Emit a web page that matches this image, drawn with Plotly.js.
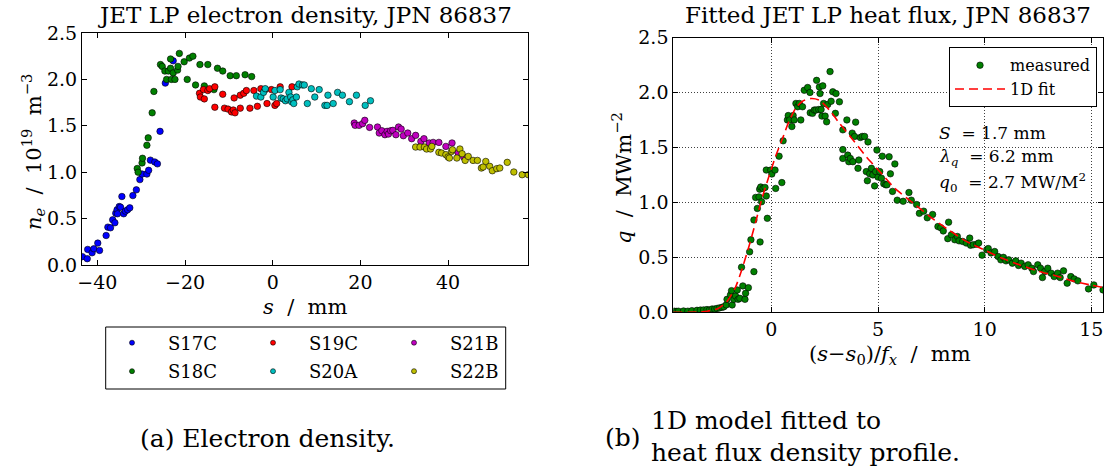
<!DOCTYPE html>
<html><head><meta charset="utf-8">
<script src="https://cdn.plot.ly/plotly-3.0.1.min.js"></script>
<style>html,body{margin:0;padding:0;background:#fff}</style>
</head><body><div id="chart" style="width:1112px;height:472px"></div>
<script>
// ---------- Data: left panel (electron density) ----------
const s17cX = [-43.4,-42.3,-42.2,-41.2,-40.8,-39.9,-39.5,-38.0,-37.6,-37.0,-36.5,-36.0,-35.8,-35.5,-35.4,-35.0,-34.7,-34.4,-34.0,-33.6,-33.1,-32.6,-31.9,-31.1,-30.3,-29.8,-28.7,-28.3,-27.9,-26.9,-26.3,-25.7,-24.5,-22.7];
const s17cY = [0.09,0.068,0.168,0.132,0.175,0.236,0.157,0.318,0.408,0.401,0.487,0.455,0.558,0.595,0.552,0.630,0.623,0.738,0.552,0.580,0.595,0.616,0.748,0.810,0.920,0.98,0.98,1.02,1.13,1.11,1.09,1.44,1.96,2.20];
const s18cX = [-30.9,-30.7,-29.8,-29.7,-28.7,-28.4,-27.5,-27.1,-25.6,-25.2,-24.6,-24.2,-23.8,-23.3,-23.3,-23.1,-22.7,-22.3,-21.7,-21.6,-21.3,-20.2,-19.5,-19.0,-18.2,-17.6,-16.6,-15.6,-14.8,-13.4,-12.6,-11.4,-9.7,-8.3,-6.3,-4.8];
const s18cY = [1.04,1.00,1.10,1.15,1.29,1.37,1.64,1.87,2.16,2.14,2.09,2.00,2.09,2.22,2.12,2.00,2.07,2.00,2.10,2.14,2.28,2.19,2.00,2.23,2.25,1.94,2.16,1.93,2.16,1.89,2.12,2.09,2.04,2.04,2.05,2.03];
const s19cX = [-16.7,-16.5,-15.8,-15.6,-14.8,-14.4,-13.2,-13.2,-11.4,-11.0,-10.2,-9.4,-9.0,-8.6,-8.8,-7.4,-7.4,-6.6,-6.0,-5.2,-4.3,-3.5,-2.7,-1.7,-1.3,-0.3,0.5,0.9,1.7,4.4];
const s19cY = [1.85,1.81,1.89,1.79,1.88,1.90,1.92,1.70,1.84,1.69,1.68,1.65,1.67,1.64,1.80,1.69,1.83,1.85,1.88,1.69,1.88,1.71,1.90,1.89,1.74,1.89,1.72,1.74,1.92,1.92];
const s20aX = [-3.7,-2.7,-2.1,-1.7,0.1,0.5,1.7,1.9,2.4,2.9,3.3,3.7,4.1,4.3,4.6,4.8,5.4,5.6,6.0,6.8,7.2,7.9,8.8,9.6,10.6,11.9,12.4,12.6,13.8,14.8,15.9,17.5,19.1,21.1,22.3];
const s20aY = [1.82,1.81,1.86,1.90,1.81,1.88,1.89,1.80,1.79,1.77,1.79,1.86,1.81,1.76,1.78,1.74,1.81,1.92,1.95,1.94,1.94,1.74,1.90,1.81,1.89,1.72,1.72,1.83,1.74,1.86,1.83,1.76,1.83,1.72,1.77];
const s21bX = [18.6,18.8,19.7,20.5,21.0,22.1,23.9,24.3,24.9,25.6,26.1,26.4,26.9,27.4,28.1,28.7,29.3,29.8,30.8,31.7,32.6,33.8,34.5,35.7,36.6,37.9,39.5,40.9,42.3,43.6];
const s21bY = [1.530,1.505,1.505,1.523,1.559,1.483,1.487,1.422,1.447,1.404,1.440,1.411,1.447,1.451,1.404,1.487,1.465,1.393,1.422,1.361,1.397,1.332,1.361,1.315,1.321,1.321,1.278,1.315,1.21,1.16];
const s22bX = [32.6,33.6,34.6,35.1,36.0,36.3,37.9,38.5,39.5,40.0,40.3,40.8,41.0,42.0,42.7,43.2,43.9,44.6,45.7,46.7,47.6,48.0,48.6,49.5,50.1,51.1,51.8,53.5,55.0,56.9,58.3];
const s22bY = [1.271,1.271,1.271,1.250,1.250,1.278,1.214,1.207,1.189,1.164,1.153,1.224,1.242,1.153,1.250,1.199,1.127,1.170,1.127,1.127,1.045,1.056,1.116,1.063,1.016,1.038,1.045,1.106,1.002,0.973,0.973];
const probeNames = ["S17C","S18C","S19C","S20A","S21B","S22B"];

// ---------- Data: right panel (heat flux) ----------
const qX = [-4.55,-4.45,-4.36,-4.12,-3.92,-3.73,-3.49,-3.33,-3.18,-3.02,-2.91,-2.78,-2.66,-2.55,-2.44,-2.31,-2.23,
 -2.12,-2.08,-1.92,-1.87,-1.84,-1.76,-1.68,-1.60,-1.56,-1.48,-1.40,-1.34,-1.24,-1.21,-1.08,-1.02,-0.96,-0.82,-0.82,-0.74,-0.66,-0.58,-0.55,-0.53,-0.50,-0.46,-0.39,-0.30,-0.24,-0.24,-0.19,-0.03,0.02,0.17,0.20,0.36,0.49,0.55,0.75,0.79,0.86,0.96,1.02,1.07,1.15,1.23,1.31,1.38,1.46,1.54,1.70,1.81,1.82,1.93,2.01,2.09,2.12,2.22,2.25,2.28,2.33,2.37,2.41,2.45,2.52,2.59,2.64,2.75,2.80,2.88,3.00,3.03,3.19,3.35,3.35,3.35,3.54,3.58,3.63,3.70,3.79,3.82,3.90,3.95,4.06,4.10,4.17,4.26,4.37,4.45,4.50,4.53,4.61,4.69,4.76,4.84,4.89,4.95,5.0,5.08,5.16,5.20,5.27,5.36,5.42,5.52,5.58,5.68,5.79,5.90,
 6.18,6.45,6.56,6.81,6.94,7.14,7.31,7.56,7.81,7.94,8.06,8.31,8.27,8.44,8.60,8.72,8.80,8.97,9.14,9.30,9.34,9.47,9.63,9.72,9.88,10.1,10.17,10.3,10.47,10.63,10.76,10.88,11.0,11.13,11.30,11.46,11.59,11.71,11.88,12.04,12.21,12.29,12.49,12.62,12.71,12.82,12.96,13.12,13.26,13.42,13.54,13.70,13.87,14.04,14.20,14.37,14.87,15.12,15.55];
const qY = [0.01,0.008,0.01,0.012,0.01,0.015,0.018,0.02,0.022,0.025,0.02,0.03,0.03,0.035,0.04,0.045,0.05,
 0.067,0.118,0.158,0.197,0.067,0.118,0.148,0.203,0.118,0.127,0.41,0.24,0.118,0.173,0.224,0.55,0.66,0.37,0.84,1.045,0.945,1.05,1.12,0.64,1.14,1.006,1.127,1.136,1.058,1.294,0.855,1.294,1.258,1.294,1.127,1.42,1.18,1.56,1.75,1.79,1.75,1.69,1.79,1.75,1.90,1.87,1.90,1.75,1.87,2.02,2.045,2.00,1.815,1.81,1.84,1.84,2.11,1.845,2.05,1.99,1.845,1.785,2.06,1.90,1.785,1.733,1.89,2.19,1.92,2.006,1.81,1.99,1.915,1.66,1.48,1.40,1.75,1.43,1.37,1.40,1.63,1.37,1.60,1.73,1.31,1.385,1.59,1.60,1.60,1.28,1.197,1.55,1.26,1.31,1.25,1.15,1.28,1.476,1.23,1.28,1.22,1.42,1.17,1.16,1.16,1.415,1.26,1.10,1.35,1.02,
 1.01,1.09,1.02,0.98,0.90,0.92,0.86,0.89,0.78,0.77,0.74,0.82,0.67,0.705,0.66,0.69,0.65,0.645,0.63,0.675,0.61,0.615,0.62,0.63,0.52,0.57,0.58,0.54,0.553,0.508,0.477,0.50,0.468,0.477,0.447,0.468,0.426,0.447,0.417,0.432,0.401,0.371,0.432,0.401,0.316,0.371,0.401,0.356,0.325,0.356,0.316,0.377,0.265,0.325,0.304,0.286,0.213,0.249,0.204];
const fitX = [-4.6,-3.5,-3.0,-2.5,-2.1,-1.7,-1.4,-1.05,-0.74,-0.42,-0.11,0.2,0.52,0.83,1.15,1.46,1.86,2.25,2.72,3.19,3.82,4.45,5.08,5.79,6.64,7.64,8.31,9.14,9.97,10.8,11.63,12.46,13.29,14.12,14.95,15.6];
const fitY = [0.0,0.002,0.01,0.035,0.095,0.22,0.38,0.60,0.82,1.05,1.24,1.42,1.58,1.74,1.86,1.92,1.945,1.93,1.84,1.72,1.57,1.415,1.28,1.127,0.995,0.84,0.75,0.645,0.569,0.493,0.432,0.377,0.335,0.286,0.249,0.225];

const leftXTicks = [-40,-20,0,20,40];
const rightXTicks = [0,5,10,15];
const yTicks = [0,0.5,1.0,1.5,2.0,2.5];

// ---------- Styling ----------
const FONT = "DejaVu Serif, serif";
const W = 1112, H = 472;
const px = v => v / W, py = v => 1 - v / H;
const colors = {S17C:"#0000ff",S18C:"#008000",S19C:"#ff0000",S20A:"#00bfbf",S21B:"#bf00bf",S22B:"#bfbf00"};
const series = {S17C:[s17cX,s17cY],S18C:[s18cX,s18cY],S19C:[s19cX,s19cY],S20A:[s20aX,s20aY],S21B:[s21bX,s21bY],S22B:[s22bX,s22bY]};

const traces = [];
probeNames.forEach(n => {
  traces.push({x: series[n][0], y: series[n][1], type:"scatter", mode:"markers", xaxis:"x", yaxis:"y",
    showlegend:false, marker:{size:6.5, color:colors[n], line:{color:"#000", width:0.6}}});
});
// legend entries (two rows, column-major like the reference)
const row1 = ["S17C","S19C","S21B"], row2 = ["S18C","S20A","S22B"];
row1.forEach(n => traces.push({x:[null], y:[null], type:"scatter", mode:"markers", name:n, legend:"legend",
  xaxis:"x", yaxis:"y", marker:{size:5, color:colors[n], line:{color:"#000", width:0.6}}}));
row2.forEach(n => traces.push({x:[null], y:[null], type:"scatter", mode:"markers", name:n, legend:"legend2",
  xaxis:"x", yaxis:"y", marker:{size:5, color:colors[n], line:{color:"#000", width:0.6}}}));

traces.push({x:qX, y:qY, type:"scatter", mode:"markers", name:"measured", legend:"legend3", xaxis:"x2", yaxis:"y2",
  marker:{size:6.5, color:"#008000", line:{color:"#000", width:0.6}}});
traces.push({x:fitX, y:fitY, type:"scatter", mode:"lines", name:"1D fit", legend:"legend3", xaxis:"x2", yaxis:"y2",
  line:{color:"#ff0000", width:1.6, dash:"9px,5px", shape:"spline", smoothing:0.6}});

const axBase = {ticks:"inside", ticklen:5, tickwidth:1, tickcolor:"#000", showline:true, linecolor:"#000", linewidth:1,
  mirror:"ticks", zeroline:false, tickfont:{family:FONT, size:19, color:"#000"}, fixedrange:true};

const legRow = (yy) => ({orientation:"h", x:px(96), xanchor:"left", y:py(yy), yanchor:"middle",
  font:{family:FONT, size:18, color:"#000"}, bgcolor:"rgba(0,0,0,0)", borderwidth:0, itemwidth:62,
  entrywidth:64, entrywidthmode:"pixels", traceorder:"normal"});

const ann = (x, y, text, size, opts={}) => Object.assign({xref:"paper", yref:"paper", x:px(x), y:py(y), text:text,
  showarrow:false, font:{family:FONT, size:size, color:"#000"}, xanchor:"center", yanchor:"middle"}, opts);

const layout = {
  width:W, height:H, autosize:false, margin:{l:0,r:0,t:0,b:0}, paper_bgcolor:"#fff", plot_bgcolor:"#fff",
  font:{family:FONT, color:"#000"},
  xaxis: Object.assign({}, axBase, {domain:[px(82), px(528.3)], range:[-43.5, 58.3], tickvals:leftXTicks, anchor:"y", showgrid:false}),
  yaxis: Object.assign({}, axBase, {domain:[py(265), py(33)], range:[0, 2.5], tickvals:yTicks, tickformat:".1f", anchor:"x", showgrid:false}),
  xaxis2: Object.assign({}, axBase, {domain:[px(673.3), px(1103)], range:[-4.6, 15.55], tickvals:rightXTicks, anchor:"y2",
    showgrid:true, gridcolor:"rgba(0,0,0,0.75)", gridwidth:1, griddash:"1px,2px"}),
  yaxis2: Object.assign({}, axBase, {domain:[py(312.3), py(37.5)], range:[0, 2.5], tickvals:yTicks, tickformat:".1f", anchor:"x2",
    showgrid:true, gridcolor:"rgba(0,0,0,0.75)", gridwidth:1, griddash:"1px,2px"}),
  legend: legRow(343),
  legend2: legRow(371.5),
  legend3: {x:px(949), xanchor:"left", y:py(47.3), yanchor:"top", bgcolor:"#fff", bordercolor:"#000", borderwidth:1,
    font:{family:FONT, size:16, color:"#000"}, traceorder:"normal", tracegroupgap:0, itemwidth:50},
  shapes: [{type:"rect", xref:"paper", yref:"paper", x0:px(105.7), x1:px(505.7), y0:py(389), y1:py(327),
    line:{color:"#000", width:1}, fillcolor:"rgba(0,0,0,0)"}],
  annotations: [
    ann(305, 15, "JET LP electron density, JPN 86837", 23),
    ann(888, 15, "Fitted JET LP heat flux, JPN 86837", 23),
    ann(305, 307, "<i>s</i>  /  mm", 21),
    ann(33, 152, "<i>n</i><sub><i>e</i></sub>  /  10<sup>19</sup>  m<sup>−3</sup>", 21, {textangle:-90}),
    ann(890, 355, "(<i>s</i>−<i>s</i><sub>0</sub>)/<i>f</i><sub><i>x</i></sub>  /  mm", 21),
    ann(622, 178, "<i>q</i>  /  MWm<sup>−2</sup>", 21, {textangle:-90}),
    ann(937, 133, "<i>S</i>  = 1.7 mm", 17, {xanchor:"left"}),
    ann(937, 157, "<i>λ</i><sub><i>q</i></sub>  = 6.2 mm", 17, {xanchor:"left"}),
    ann(937, 183, "<i>q</i><sub>0</sub>  = 2.7 MW/M<sup>2</sup>", 17, {xanchor:"left"}),
    ann(267, 438, "(a) Electron density.", 25),
    ann(603, 437, "(b)", 25, {xanchor:"left"}),
    ann(649, 420, "1D model fitted to", 25, {xanchor:"left"}),
    ann(649, 452, "heat flux density profile.", 25, {xanchor:"left"})
  ]
};

Plotly.newPlot("chart", traces, layout, {staticPlot:true, displayModeBar:false});
</script></body></html>
